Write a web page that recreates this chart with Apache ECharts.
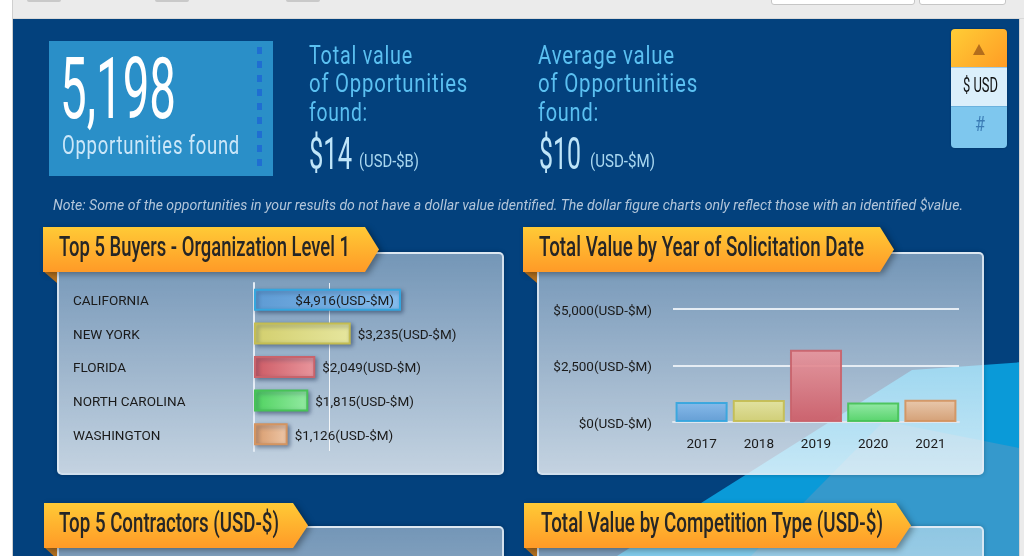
<!DOCTYPE html>
<html><head><meta charset="utf-8">
<script src="https://cdn.jsdelivr.net/npm/echarts@6/dist/echarts.min.js"></script>
<style>
html,body{margin:0;padding:0;width:1024px;height:556px;overflow:hidden;background:#fff;font-family:Roboto,sans-serif;}
#page{position:absolute;left:0;top:0;width:1024px;height:556px;overflow:hidden;}
.abs{position:absolute;}
.t{position:absolute;white-space:nowrap;display:inline-block;transform-origin:0 50%;}
#topbar{left:13px;top:0;width:1011px;height:18px;background:#ebebeb;border-bottom:1px solid #d9d9d9;}
#leftline{left:12px;top:0;width:1px;height:556px;background:#cfcfcf;}
#main{left:13px;top:19px;width:1006px;height:537px;background:#03417d;overflow:hidden;}
#rstrip{left:1019px;top:19px;width:5px;height:537px;background:#ebebeb;border-left:1px solid #d3d3d3;}
.tab{top:-3px;height:5px;background:#c9c9c9;border-radius:2px;}
.inp{top:-4px;height:7px;background:#fff;border:1px solid #c6c6c6;border-radius:3px;}
.panel{background:linear-gradient(to bottom,rgba(255,255,255,0.45),rgba(255,255,255,0.77));border:2px solid rgba(226,236,246,0.85);border-radius:5px;box-sizing:border-box;box-shadow:0 0 4px rgba(0,0,0,0.25);}
.ribw{filter:drop-shadow(3px 2px 3px rgba(0,0,0,0.35));}
.rib{position:absolute;left:0;top:0;height:45px;background:linear-gradient(to bottom,#ffca36,#ff9a27);}
.fold{background:#b27020;}
.rtitle{font-size:28px;line-height:28px;color:#262626;font-weight:500;}
.stat{color:#5bc0f1;font-size:26px;line-height:26px;letter-spacing:1px;}
</style></head>
<body>
<div id="page">
  <div id="leftline" class="abs"></div>
  <div id="topbar" class="abs"></div>
  <div class="abs tab" style="left:27px;width:34px"></div>
  <div class="abs tab" style="left:155px;width:34px"></div>
  <div class="abs tab" style="left:286px;width:34px"></div>
  <div class="abs inp" style="left:771px;width:142px"></div>
  <div class="abs inp" style="left:919px;width:85px"></div>
  <div id="main" class="abs"></div>
  <svg class="abs" style="left:0;top:0" width="1024" height="556">
    <defs><clipPath id="mc"><rect x="13" y="19" width="1006" height="537"/></clipPath></defs>
    <g clip-path="url(#mc)">
      <polygon points="912,370 1024,362 1024,556 617,556" fill="#0a9ad8"/>
      <polygon points="884,421 1024,449 1024,556 751,556" fill="#3599cc"/>
    </g>
  </svg>
  <div id="rstrip" class="abs"></div>

  <!-- big count box -->
  <div class="abs" style="left:49px;top:41px;width:224px;height:135px;background:#2a8fc8;"></div>
  <div class="abs" style="left:257px;top:47px;width:5px;height:122px;background:repeating-linear-gradient(to bottom,#1f6ed2 0,#1f6ed2 7px,transparent 7px,transparent 14px);"></div>
  <div class="t" data-w="116" style="left:60px;top:47px;font-size:85px;line-height:85px;color:#fff;">5,198</div>
  <div class="t" data-w="178" style="left:62px;top:133px;font-size:25px;line-height:25px;color:#cbe7f9;letter-spacing:1px;">Opportunities found</div>

  <div class="t stat" data-w="104" style="left:309px;top:42px;">Total value</div>
  <div class="t stat" data-w="159" style="left:309px;top:70px;">of Opportunities</div>
  <div class="t stat" data-w="59" style="left:309px;top:99px;">found:</div>
  <div class="t" data-w="43" style="left:309px;top:132px;font-size:44px;line-height:44px;color:#bfe5f9;">$14</div>
  <div class="t" data-w="60" style="left:359px;top:151px;font-size:19px;line-height:19px;color:#a9d7f0;">(USD-$B)</div>

  <div class="t stat" data-w="137" style="left:538px;top:42px;">Average value</div>
  <div class="t stat" data-w="160" style="left:538px;top:70px;">of Opportunities</div>
  <div class="t stat" data-w="61" style="left:538px;top:99px;">found:</div>
  <div class="t" data-w="42" style="left:539px;top:132px;font-size:44px;line-height:44px;color:#bfe5f9;">$10</div>
  <div class="t" data-w="65" style="left:590px;top:151px;font-size:19px;line-height:19px;color:#a9d7f0;">(USD-$M)</div>

  <!-- toggle -->
  <div class="abs" style="left:951px;top:29px;width:56px;height:119px;border-radius:4px;overflow:hidden;box-shadow:0 0 2px rgba(0,0,0,0.3);">
    <div class="abs" style="left:0;top:0;width:56px;height:38px;background:linear-gradient(135deg,#ffcd36,#ff9c25);"></div>
    <div class="abs" style="left:22px;top:15px;width:12px;height:11px;background:#b36d1c;clip-path:polygon(50% 0,100% 100%,0 100%);"></div>
    <div class="abs" style="left:0;top:38px;width:56px;height:39px;background:#dbeffb;border-top:1px solid #9fcbe8;box-sizing:border-box;"></div>
    <div class="abs" style="left:0;top:77px;width:56px;height:42px;background:#7ec7ee;border-top:1px solid #6bb2de;box-sizing:border-box;"></div>
  </div>
  <div class="t" data-w="35" style="left:963px;top:75px;font-size:21px;line-height:21px;color:#111;">$ USD</div>
  <div class="t" data-w="10" style="left:975px;top:114px;font-size:21px;line-height:21px;color:#3b7cb5;">#</div>

  <div class="t" data-w="910" style="left:53px;top:198px;font-size:15px;line-height:15px;color:#b3c6da;font-style:italic;">Note: Some of the opportunities in your results do not have a dollar value identified. The dollar figure charts only reflect those with an identified $value.</div>

  <!-- panels -->
  <div class="abs panel" style="left:57px;top:252px;width:447px;height:223px;"></div>
  <div class="abs panel" style="left:537px;top:252px;width:447px;height:223px;"></div>
  <div class="abs panel" style="left:57px;top:526px;width:447px;height:223px;"></div>
  <div class="abs panel" style="left:537px;top:526px;width:447px;height:223px;"></div>

  <!-- ribbons -->
  <div class="abs fold" style="left:43px;top:271px;width:14px;height:12px;clip-path:polygon(0 0,100% 0,100% 100%);"></div>
  <div class="abs ribw" style="left:43px;top:227px;width:336px;height:45px;"><div class="rib" style="width:336px;clip-path:polygon(0 0,322px 0,336px 50%,322px 100%,0 100%);"></div></div>
  <div class="abs fold" style="left:523px;top:271px;width:14px;height:12px;clip-path:polygon(0 0,100% 0,100% 100%);"></div>
  <div class="abs ribw" style="left:523px;top:227px;width:371px;height:45px;"><div class="rib" style="width:371px;clip-path:polygon(0 0,357px 0,371px 50%,357px 100%,0 100%);"></div></div>
  <div class="abs fold" style="left:44px;top:547px;width:13px;height:12px;clip-path:polygon(0 0,100% 0,100% 100%);"></div>
  <div class="abs ribw" style="left:44px;top:503px;width:264px;height:45px;"><div class="rib" style="width:264px;clip-path:polygon(0 0,249px 0,264px 50%,249px 100%,0 100%);"></div></div>
  <div class="abs fold" style="left:524px;top:547px;width:13px;height:12px;clip-path:polygon(0 0,100% 0,100% 100%);"></div>
  <div class="abs ribw" style="left:524px;top:503px;width:387px;height:45px;"><div class="rib" style="width:387px;clip-path:polygon(0 0,372px 0,387px 50%,372px 100%,0 100%);"></div></div>

  <div class="t rtitle" data-w="291" style="left:59px;top:233px;">Top 5 Buyers - Organization Level 1</div>
  <div class="t rtitle" data-w="325" style="left:539px;top:233px;">Total Value by Year of Solicitation Date</div>
  <div class="t rtitle" data-w="220" style="left:59px;top:509px;">Top 5 Contractors (USD-$)</div>
  <div class="t rtitle" data-w="342" style="left:541px;top:509px;">Total Value by Competition Type (USD-$)</div>

  <div id="chart" class="abs" style="left:0;top:0;width:1024px;height:556px;"></div>
</div>
<script>
// ---- data ----
var buyers = ['CALIFORNIA', 'NEW YORK', 'FLORIDA', 'NORTH CAROLINA', 'WASHINGTON'];
var buyerValues = [4916, 3235, 2049, 1815, 1126];
var years = ['2017', '2018', '2019', '2020', '2021'];
var yearValues = [880, 975, 3200, 865, 990];
var yTicks = [0, 2500, 5000];

// fit condensed texts
document.querySelectorAll('[data-w]').forEach(function (el) {
  var w = el.getBoundingClientRect().width;
  el.style.transform = 'scaleX(' + (+el.dataset.w / w) + ')';
});

var palette = [
  {a: '#5e9bd4', b: '#84bbec', line: '#35a6de'},
  {a: '#d3cf6e', b: '#e6e69e', line: '#c4bd52'},
  {a: '#cd5b65', b: '#e9969d', line: '#c9636b'},
  {a: '#4fd25f', b: '#93eaa2', line: '#47c257'},
  {a: '#d79a6b', b: '#eec7a8', line: '#d49460'}
];
function money(v) { return '$' + v.toLocaleString('en-US') + '(USD-$M)'; }
var txt = '#1a1a1a';
var fs = 13.5;

var chart = echarts.init(document.getElementById('chart'), null, {renderer: 'canvas'});
chart.setOption({
  backgroundColor: 'transparent',
  animation: false,
  grid: [
    {left: 254, top: 283, width: 149.5, height: 168},
    {left: 673, top: 309, width: 286, height: 113}
  ],
  xAxis: [
    {gridIndex: 0, type: 'value', min: 0, max: 5000, interval: 2500,
     axisLabel: {show: false}, axisLine: {show: false}, axisTick: {show: false},
     splitLine: {show: true, showMinLine: false, showMaxLine: false, lineStyle: {color: 'rgba(255,255,255,0.85)', width: 1}}},
    {gridIndex: 1, type: 'category', data: years,
     axisLine: {show: true, lineStyle: {color: '#dfe7ef', width: 2}}, axisTick: {show: false},
     axisLabel: {margin: 16, color: txt, fontSize: fs, fontFamily: 'Roboto'}}
  ],
  yAxis: [
    {gridIndex: 0, type: 'category', data: buyers, inverse: true,
     axisLine: {show: true, lineStyle: {color: '#e4ecf5', width: 2}}, axisTick: {show: false},
     axisLabel: {margin: 181, align: 'left', verticalAlign: 'top', lineHeight: 4, color: txt, fontSize: fs, fontFamily: 'Roboto'}},
    {gridIndex: 1, type: 'value', min: yTicks[0], max: yTicks[yTicks.length - 1], interval: yTicks[1] - yTicks[0],
     axisLine: {show: false}, axisTick: {show: false},
     axisLabel: {margin: 21, verticalAlign: 'top', lineHeight: 5, color: txt, fontSize: fs, fontFamily: 'Roboto', formatter: money},
     splitLine: {show: true, showMinLine: false, lineStyle: {color: '#e6edf4', width: 2}}}
  ],
  series: [
    {type: 'bar', xAxisIndex: 0, yAxisIndex: 0, barWidth: 22,
     data: buyerValues.map(function (v, i) {
       var p = palette[i];
       return {value: v,
         itemStyle: {color: new echarts.graphic.LinearGradient(0, 0, 1, 0, [{offset: 0, color: p.a}, {offset: 1, color: p.b}]),
           borderColor: p.line, borderWidth: 2, shadowColor: 'rgba(25,45,80,0.45)', shadowBlur: 4, shadowOffsetX: 2, shadowOffsetY: 2},
         label: {position: i === 0 ? 'insideRight' : 'right', distance: 7}};
     }),
     label: {show: true, color: txt, fontSize: fs, fontFamily: 'Roboto', verticalAlign: 'top', lineHeight: 4, formatter: function (p) { return money(p.value); }}},
    {type: 'bar', xAxisIndex: 1, yAxisIndex: 1, barCategoryGap: '9%',
     data: yearValues.map(function (v, i) {
       var p = palette[i];
       return {value: v,
         itemStyle: {color: new echarts.graphic.LinearGradient(0, 0, 0, 1, [{offset: 0, color: p.b}, {offset: 1, color: p.a}]),
           borderColor: p.line, borderWidth: 2, opacity: 0.92}};
     })}
  ]
});
</script>
</body></html>
